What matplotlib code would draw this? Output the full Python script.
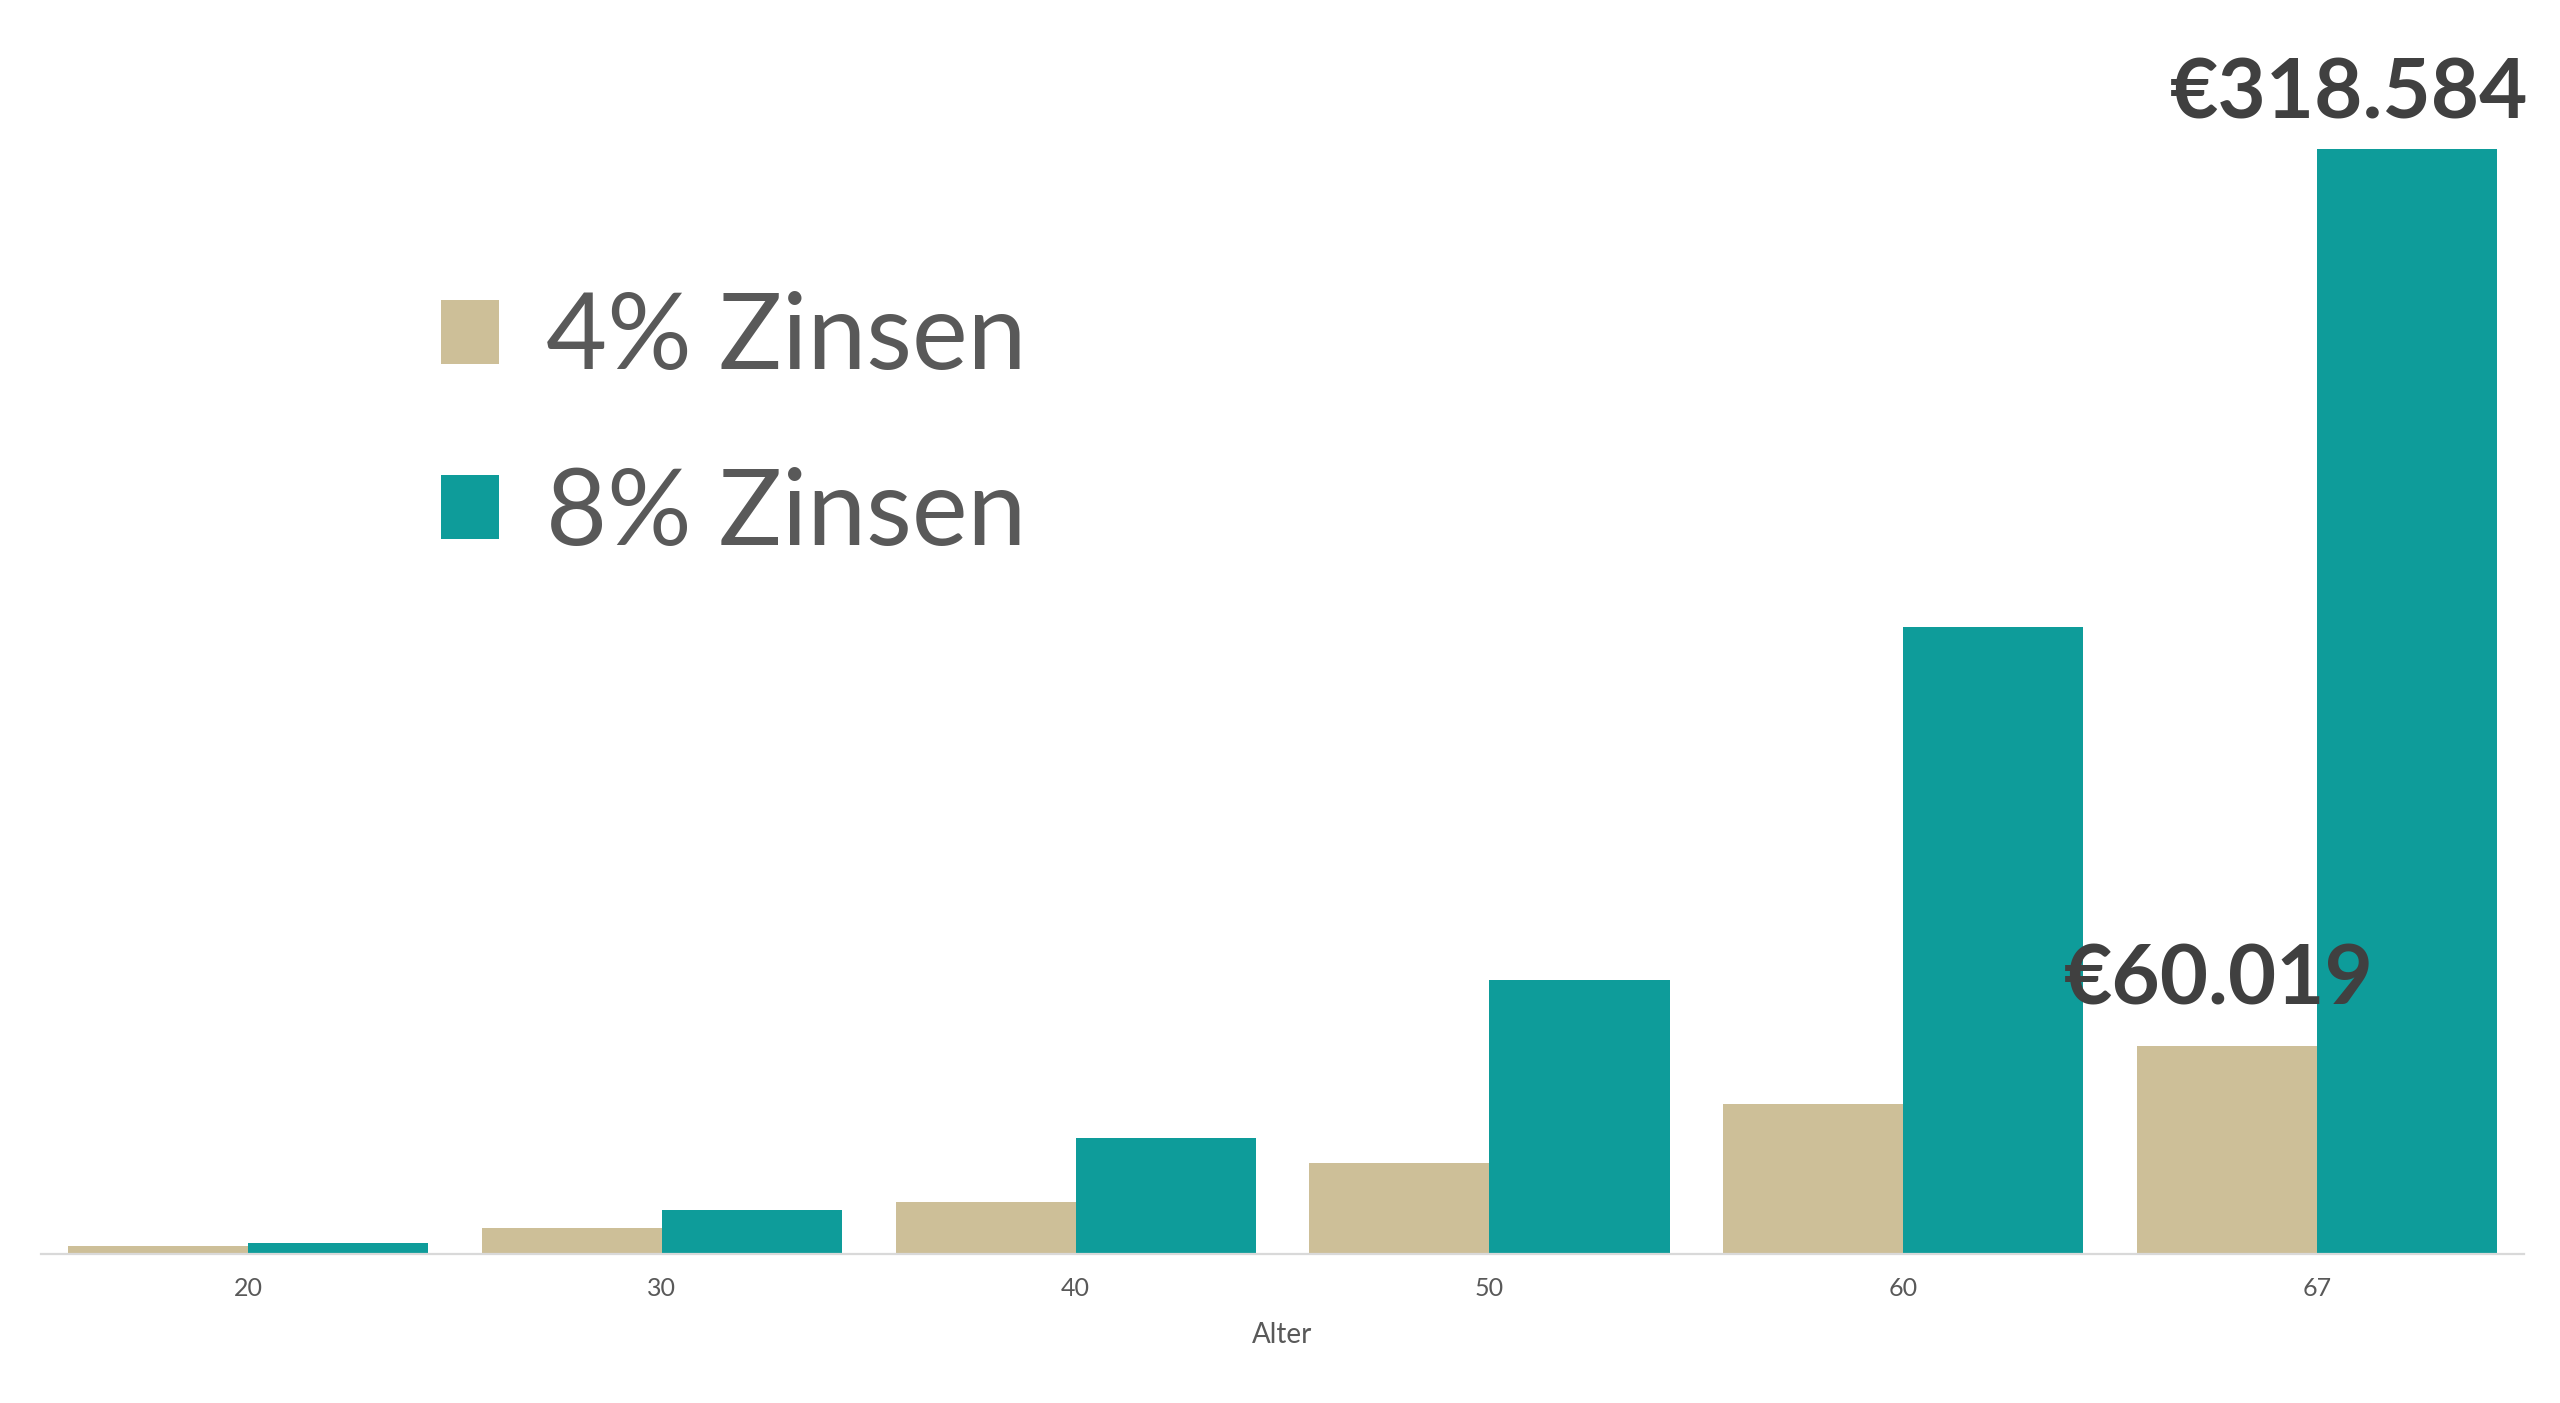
import matplotlib
matplotlib.use("Agg")
import matplotlib.pyplot as plt
import numpy as np

ages = ["20", "30", "40", "50", "60", "67"]
zins4 = [2400, 7500, 15000, 26400, 43300, 60019]
zins8 = [3300, 12700, 33400, 79000, 180700, 318584]
series_labels = ["4% Zinsen", "8% Zinsen"]

plt.rcParams['font.family'] = ['Lato', 'DejaVu Sans']
fig = plt.figure(figsize=(12.8, 7.015), dpi=200)
ax = fig.add_axes([0.016, 0.106, 0.97, 0.788])
x = np.arange(len(ages))
w = 0.435
b4 = ax.bar(x - w/2, zins4, w, color="#CDBF98", label=series_labels[0])
b8 = ax.bar(x + w/2, zins8, w, color="#0E9C9A", label=series_labels[1])
ax.set_xlim(-0.5, 5.5)
ax.set_ylim(0, max(zins8))
ax.set_xticks(x)
ax.set_xticklabels(ages, fontsize=9, color="#595959")
ax.tick_params(axis='x', length=0, pad=8)
ax.set_yticks([])
for s in ["top", "left", "right"]:
    ax.spines[s].set_visible(False)
ax.spines["bottom"].set_color("#D9D9D9")
ax.set_xlabel("Alter", fontsize=10, color="#595959", labelpad=8)

def fmt(v):
    return "€" + f"{v:,}".replace(",", ".")

ax.text(5 + w/2 - 0.14, zins8[-1] * 1.015, fmt(zins8[-1]), ha="center", va="bottom",
        fontsize=30, fontweight="bold", color="#404040", clip_on=False)
ax.text(5 - w/2 - 0.02, zins4[-1] + 8000, fmt(zins4[-1]), ha="center", va="bottom",
        fontsize=30, fontweight="bold", color="#404040")

ax.legend(loc="upper left", bbox_to_anchor=(0.135, 0.86), bbox_transform=fig.transFigure,
          frameon=False, fontsize=38, handlelength=0.55, handleheight=0.55,
          handletextpad=0.45, labelspacing=0.75, labelcolor="#595959")
fig.savefig("out.png", dpi=200)
